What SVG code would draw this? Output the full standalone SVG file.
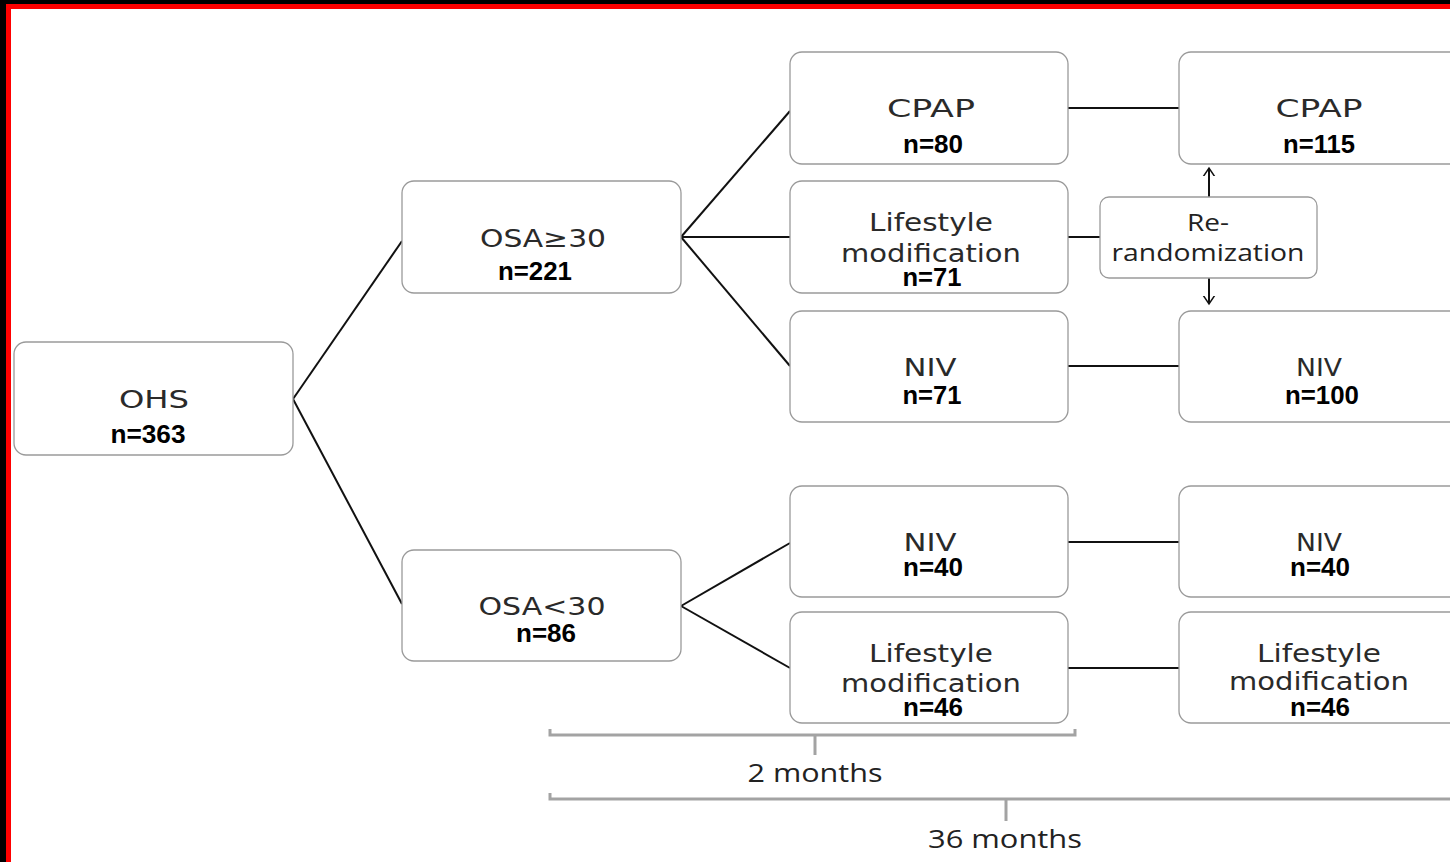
<svg xmlns="http://www.w3.org/2000/svg" width="1450" height="862" viewBox="0 0 1450 862">
<style>
.box{fill:#fff;stroke:#9a9a9a;stroke-width:1.3}
.lbl{font-family:"DejaVu Sans",sans-serif;font-size:25px;fill:#2a2a2a;text-anchor:middle}
.num{font-family:"Liberation Sans",Arial,sans-serif;font-size:25px;font-weight:bold;fill:#000;text-anchor:middle}
.rr{font-family:"Open Sans",sans-serif;font-size:23px;fill:#222;text-anchor:middle}
.tm{font-family:"Open Sans",sans-serif;font-size:26px;fill:#222;text-anchor:middle}
.ln{stroke:#111;stroke-width:2;fill:none}
.br{stroke:#a3a3a3;stroke-width:3;fill:none}
</style>
<defs>
<marker id="arr" viewBox="-8 -8 16 16" markerWidth="16" markerHeight="16" refX="0" refY="0" orient="auto" markerUnits="userSpaceOnUse">
<path d="M-9,-6 L0,0 L-9,6" fill="none" stroke="#111" stroke-width="1.5"/>
</marker>
</defs>
<rect x="0" y="0" width="1450" height="862" fill="#fff"/>
<rect x="0" y="0" width="1450" height="4" fill="#000"/>
<rect x="0" y="0" width="6" height="862" fill="#000"/>
<rect x="6" y="4" width="1444" height="5" fill="#f00"/>
<rect x="6" y="4" width="5" height="858" fill="#f00"/>

<g id="connectors">
<path class="ln" d="M293,399 L402,241"/>
<path class="ln" d="M293,399 L402,604"/>
<path class="ln" d="M681,237 L790,111"/>
<path class="ln" d="M681,237 L790,237"/>
<path class="ln" d="M681,237 L790,366"/>
<path class="ln" d="M681,606 L790,543"/>
<path class="ln" d="M681,606 L790,668"/>
<path class="ln" d="M1068,108 L1179,108"/>
<path class="ln" d="M1068,237 L1100,237"/>
<path class="ln" d="M1068,366 L1179,366"/>
<path class="ln" d="M1068,542 L1179,542"/>
<path class="ln" d="M1068,668 L1179,668"/>
<path class="ln" d="M1209,197 L1209,168" stroke-width="1.5" marker-end="url(#arr)"/>
<path class="ln" d="M1209,278 L1209,304" stroke-width="1.5" marker-end="url(#arr)"/>
</g>

<g id="n-ohs">
<rect class="box" x="14" y="342" width="279" height="113" rx="12"/>
<text class="lbl" x="154" y="408" textLength="70" lengthAdjust="spacingAndGlyphs">OHS</text>
<text class="num" x="148" y="443" textLength="75" lengthAdjust="spacingAndGlyphs">n=363</text>
</g>
<g id="n-osa-ge30">
<rect class="box" x="402" y="181" width="279" height="112" rx="12"/>
<text class="lbl" x="543" y="247" textLength="126" lengthAdjust="spacingAndGlyphs">OSA≥30</text>
<text class="num" x="535" y="280" textLength="74" lengthAdjust="spacingAndGlyphs">n=221</text>
</g>
<g id="n-osa-lt30">
<rect class="box" x="402" y="550" width="279" height="111" rx="12"/>
<text class="lbl" x="542" y="615" textLength="127" lengthAdjust="spacingAndGlyphs">OSA&lt;30</text>
<text class="num" x="546" y="642" textLength="60" lengthAdjust="spacingAndGlyphs">n=86</text>
</g>
<g id="n-cpap1">
<rect class="box" x="790" y="52" width="278" height="112" rx="12"/>
<text class="lbl" x="931" y="117" textLength="88" lengthAdjust="spacingAndGlyphs">CPAP</text>
<text class="num" x="933" y="153" textLength="60" lengthAdjust="spacingAndGlyphs">n=80</text>
</g>
<g id="n-life1">
<rect class="box" x="790" y="181" width="278" height="112" rx="12"/>
<text class="lbl" x="931" y="231" textLength="124" lengthAdjust="spacingAndGlyphs">Lifestyle</text>
<text class="lbl" x="931" y="262" textLength="180" lengthAdjust="spacingAndGlyphs">modification</text>
<text class="num" x="932" y="286" textLength="59" lengthAdjust="spacingAndGlyphs">n=71</text>
</g>
<g id="n-niv1">
<rect class="box" x="790" y="311" width="278" height="111" rx="12"/>
<text class="lbl" x="930" y="376" textLength="53" lengthAdjust="spacingAndGlyphs">NIV</text>
<text class="num" x="932" y="404" textLength="59" lengthAdjust="spacingAndGlyphs">n=71</text>
</g>
<g id="n-niv2">
<rect class="box" x="790" y="486" width="278" height="111" rx="12"/>
<text class="lbl" x="930" y="551" textLength="53" lengthAdjust="spacingAndGlyphs">NIV</text>
<text class="num" x="933" y="576" textLength="60" lengthAdjust="spacingAndGlyphs">n=40</text>
</g>
<g id="n-life2">
<rect class="box" x="790" y="612" width="278" height="111" rx="12"/>
<text class="lbl" x="931" y="662" textLength="124" lengthAdjust="spacingAndGlyphs">Lifestyle</text>
<text class="lbl" x="931" y="692" textLength="180" lengthAdjust="spacingAndGlyphs">modification</text>
<text class="num" x="933" y="716" textLength="60" lengthAdjust="spacingAndGlyphs">n=46</text>
</g>
<g id="n-rerand">
<rect class="box" x="1100" y="197" width="217" height="81" rx="9"/>
<text class="rr" x="1208" y="231" textLength="42" lengthAdjust="spacingAndGlyphs">Re-</text>
<text class="rr" x="1208" y="261" textLength="193" lengthAdjust="spacingAndGlyphs">randomization</text>
</g>
<g id="n-cpap3">
<rect class="box" x="1179" y="52" width="290" height="112" rx="12"/>
<text class="lbl" x="1319" y="117" textLength="87" lengthAdjust="spacingAndGlyphs">CPAP</text>
<text class="num" x="1319" y="153" textLength="72" lengthAdjust="spacingAndGlyphs">n=115</text>
</g>
<g id="n-niv3">
<rect class="box" x="1179" y="311" width="290" height="111" rx="12"/>
<text class="lbl" x="1319" y="376" textLength="46" lengthAdjust="spacingAndGlyphs">NIV</text>
<text class="num" x="1322" y="404" textLength="74" lengthAdjust="spacingAndGlyphs">n=100</text>
</g>
<g id="n-niv4">
<rect class="box" x="1179" y="486" width="290" height="111" rx="12"/>
<text class="lbl" x="1319" y="551" textLength="46" lengthAdjust="spacingAndGlyphs">NIV</text>
<text class="num" x="1320" y="576" textLength="60" lengthAdjust="spacingAndGlyphs">n=40</text>
</g>
<g id="n-life3">
<rect class="box" x="1179" y="612" width="290" height="111" rx="12"/>
<text class="lbl" x="1319" y="662" textLength="124" lengthAdjust="spacingAndGlyphs">Lifestyle</text>
<text class="lbl" x="1319" y="690" textLength="180" lengthAdjust="spacingAndGlyphs">modification</text>
<text class="num" x="1320" y="716" textLength="60" lengthAdjust="spacingAndGlyphs">n=46</text>
</g>

<g id="braces">
<path class="br" d="M550,729 L550,735 L1075,735 L1075,729"/>
<path class="br" d="M815,735 L815,755"/>
<text class="tm" x="815" y="782" textLength="135" lengthAdjust="spacingAndGlyphs">2 months</text>
<path class="br" d="M550,793 L550,799 L1460,799"/>
<path class="br" d="M1006,799 L1006,821"/>
<text class="tm" x="1005" y="848" textLength="154" lengthAdjust="spacingAndGlyphs">36 months</text>
</g>
</svg>
